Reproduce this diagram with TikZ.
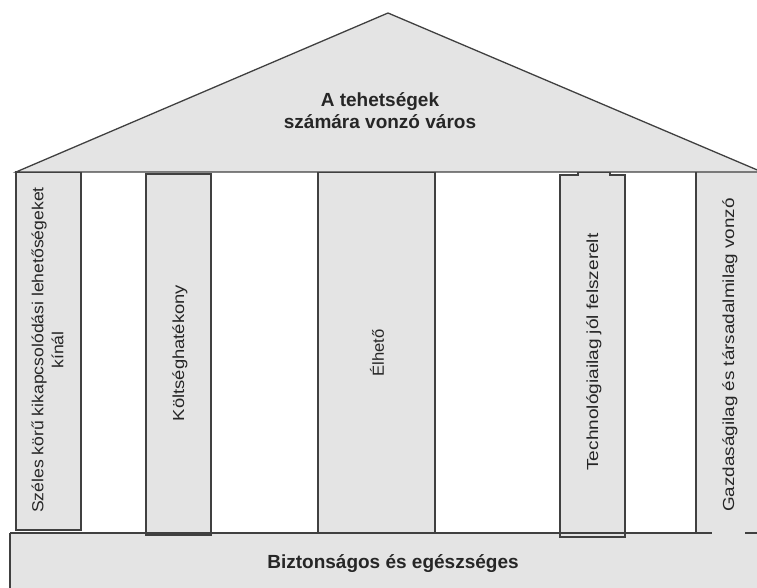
\documentclass[tikz,border=0pt]{standalone}
\usepackage{fontspec}
\setmainfont{Liberation Sans}
\usepackage{graphicx}
\definecolor{fillc}{HTML}{E4E4E4}
\definecolor{linec}{HTML}{404040}
\tikzset{
  part/.style={draw=linec, fill=fillc, line width=1.3bp},
  edge/.style={draw=linec, line width=1.3bp},
  boldtext/.style={font=\fontsize{19bp}{22bp}\selectfont\bfseries, text=black!85, inner sep=0pt, align=center},
  vtext/.style={font=\fontsize{16bp}{20bp}\selectfont, text=black!85, inner sep=0pt, align=center, rotate=90}
}
\newcommand{\strt}[2]{\scalebox{#1}[1]{#2}}
\begin{document}
\begin{tikzpicture}[x=1bp,y=-1bp]
\useasboundingbox (0,0) rectangle (757,588);
\clip (0,0) rectangle (757,588);
% base
\fill[fillc] (10,533) rectangle (780,600);
\draw[edge] (10,600) -- (10,533);
% pillars
\path[part] (16,172) rectangle (81,530);
\path[part] (146,174) rectangle (211,535);
\path[part] (318,172) rectangle (435,533);
\path[part] (560,537) -- (560,175) -- (578,175) -- (578,172) -- (610,172) -- (610,175) -- (625,175) -- (625,537) -- cycle;
\fill[fillc] (696,172) rectangle (790,533);
\draw[edge] (696,533) -- (696,172);
% roof
\path[part, line join=miter] (16,172) -- (388,13) -- (762,172) -- cycle;
% base top line
\draw[edge] (10,533) -- (712,533);
\draw[edge] (745,533) -- (780,533);
% texts
\node[boldtext] (roof) at (380,111) {A tehetségek\\számára vonzó város};
\node[boldtext, anchor=base] (base) at (393,568) {Biztonságos és egészséges};
\node[vtext] (t1) at (47.5,350) {\strt{1.1}{Széles körű kikapcsolódási lehetőségeket}\\\strt{1.1}{kínál}};
\node[vtext] (t2) at (180,353) {\strt{1.15}{Költséghatékony}};
\node[vtext] (t3) at (377,353) {\strt{1.04}{Élhető}};
\node[vtext] (t4) at (594,352) {\strt{1.19}{Technológiailag jól felszerelt}};
\node[vtext] (t5) at (730,355) {\strt{1.18}{Gazdaságilag és társadalmilag vonzó}};
\end{tikzpicture}
\end{document}
